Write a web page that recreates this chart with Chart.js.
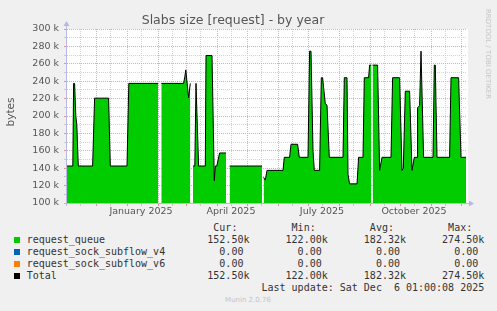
<!DOCTYPE html>
<html>
<head>
<meta charset="utf-8">
<script src="https://cdn.jsdelivr.net/npm/chart.js@4.4.1/dist/chart.umd.min.js"></script>
<style>
  body { margin: 0; background: #f0f0f0; width: 497px; height: 311px; overflow: hidden; position: relative; font-family: "DejaVu Sans", sans-serif; }
  #c { position: absolute; left: 0; top: 0; }
  #legend { position: absolute; left: 26.7px; top: 221.7px; margin: 0; font: 10px/12px "DejaVu Sans Mono", monospace; color: #333; white-space: pre; }
  .sq { position: absolute; left: 14px; width: 6px; height: 6px; }
  .rot { position: absolute; white-space: nowrap; }
  #ylab { left: 10px; top: 112px; font-size: 10.5px; color: #555; transform: translate(-50%, -50%) rotate(-90deg); }
  #rrd { left: 487.5px; top: 53.5px; font-size: 7px; color: #c4c4c4; transform: translate(-50%, -50%) rotate(90deg); }
  #munin { position: absolute; left: 248px; top: 300.3px; font-size: 7px; color: #c4c4c4; transform: translate(-50%, -50%); white-space: nowrap; }
</style>
</head>
<body>
<canvas id="c" width="497" height="220"></canvas>
<div id="ylab" class="rot">bytes</div>
<div id="rrd" class="rot">RRDTOOL / TOBI OETIKER</div>
<pre id="legend"></pre>
<div id="munin">Munin 2.0.76</div>
<script>
// days since 2024-11-01, and request_queue in k bytes (null = no data)
const days = [1, 6.8, 7.6, 8.6, 9.8, 10.8, 12.3, 26.6, 28.6, 42.6, 44.3, 61, 62.8, 92, 93.5,
  95.3, 117.6, 118.8, 119.8, 122.6, 124.3, 125.5, 127, 128.8, 130, 132.6, 139.3, 140, 146,
  148.3, 149.3, 150.8, 153.6, 160, 161.5, 163.6, 196, 197, 197.6, 199.3, 201, 217, 218.3,
  223.6, 225, 231.6, 233.3, 242, 243.6, 245, 247, 248.3, 253.6, 255.3, 256.6, 259.3, 261,
  263.3, 277, 278.3, 281, 282, 283.6, 291, 292.6, 297, 298.3, 302.6, 303.6, 305.3, 306,
  306.6, 311.6, 313.6, 316, 325, 326.6, 333.6, 336, 337.3, 339.3, 343.6, 346, 348.3, 351,
  351.6, 353.6, 355, 357.6, 367, 368.3, 369.3, 371, 383.6, 385, 392.6, 395, 400];
const queueK = [142.5, 142.5, 237.5, 237.5, 200, 190, 142.5, 142.5, 220.5, 220.5, 142.5, 142.5, 237.5, 237.5, null,
  237.5, 237.5, 245, 253, 221, 237.5, null, 142.5, 142.5, 237.5, 142.5, 142.5, 269.5, 269.5,
  125.5, 142.5, 142.5, 157.5, 157.5, null, 142.5, 142.5, null, 129.5, 126.3, 137.5, 137.5, 152.5,
  152.5, 167.5, 167.5, 152.5, 152.5, 274.5, 274.5, 160, 137.5, 137.5, 244, 244, 214, 212.5,
  152.5, 152.5, 244, 244, 133, 122, 122, 152.5, 152.5, 244, 244, 258.5, 258.5, null,
  258.5, 258.5, 137.5, 152.5, 152.5, 244, 244, 137.5, 140, 228.5, 228.5, 137.5, 152.5, 152.5,
  209.5, 212, 274.5, 152.5, 152.5, 258.5, 258.5, 152.5, 152.5, 244, 244, 152.5, 152.5];

const seriesNames = ['request_queue', 'request_sock_subflow_v4', 'request_sock_subflow_v6', 'Total'];
const seriesColors = ['#00cc00', '#0066b3', '#ff8000', '#000000'];
const curVals = [152500, 0, 0, 152500];
const minVals = [122000, 0, 0, 122000];
const avgVals = [182320, 0, 0, 182320];
const maxVals = [274500, 0, 0, 274500];

const xLabels = ['January 2025', 'April 2025', 'July 2025', 'October 2025'];
const xLabelDates = ['2025-01-15', '2025-04-15', '2025-07-15', '2025-10-15'];
const startDate = '2024-11-01';

function dayOf(s) {
  return (Date.parse(s) - Date.parse(startDate)) / 86400000;
}

// month starts (major) and mid months (minor)
let monthTicks = [], midTicks = [];
for (let m = 0; m < 14; m++) {
  let y = 2024 + Math.floor((10 + m) / 12), mo = (10 + m) % 12 + 1;
  let s = y + '-' + String(mo).padStart(2, '0');
  let d1 = dayOf(s + '-01'), d15 = dayOf(s + '-15');
  if (d1 > 1 && d1 < 400) monthTicks.push(d1);
  if (d15 > 1 && d15 < 400) midTicks.push(d15);
}
const labelAt = {};
xLabelDates.forEach((d, i) => labelAt[dayOf(d)] = xLabels[i]);

const pts = days.map((d, i) => ({ x: d, y: queueK[i] === null ? null : queueK[i] * 1000 }));
const zeros = days.map(d => ({ x: d, y: 0 }));

const MAJ = '#e8a8a8', MIN = '#d2d2d2';
const font = { family: 'DejaVu Sans', size: 9.5 };

const bgPlugin = {
  id: 'bg',
  beforeDraw(chart) {
    const a = chart.chartArea, ctx = chart.ctx;
    ctx.save();
    ctx.fillStyle = '#ffffff';
    ctx.fillRect(a.left, a.top, a.right - a.left + 2, a.bottom - a.top);
    ctx.restore();
  },
  afterDraw(chart) {
    const a = chart.chartArea, ctx = chart.ctx;
    ctx.save();
    ctx.strokeStyle = ctx.fillStyle = '#b8b8e6';
    ctx.lineWidth = 1;
    ctx.beginPath();
    ctx.moveTo(a.left - 0.5, a.bottom + 3);
    ctx.lineTo(a.left - 0.5, a.top - 3);
    ctx.moveTo(a.left - 3, a.bottom + 0.5);
    ctx.lineTo(a.right + 3, a.bottom + 0.5);
    ctx.stroke();
    ctx.beginPath();
    ctx.moveTo(a.left - 0.5, a.top - 8);
    ctx.lineTo(a.left - 3.5, a.top - 3);
    ctx.lineTo(a.left + 2.5, a.top - 3);
    ctx.fill();
    ctx.beginPath();
    ctx.moveTo(a.right + 8, a.bottom + 0.5);
    ctx.lineTo(a.right + 3, a.bottom - 2.5);
    ctx.lineTo(a.right + 3, a.bottom + 3.5);
    ctx.fill();
    ctx.restore();
  }
};

new Chart(document.getElementById('c').getContext('2d'), {
  type: 'line',
  data: {
    datasets: [
      { label: 'Total', data: pts, borderColor: '#000000', borderWidth: 1, pointRadius: 0, fill: false, order: 0 },
      { label: seriesNames[0], data: pts, borderWidth: 0, borderColor: 'rgba(0,0,0,0)', backgroundColor: seriesColors[0], pointRadius: 0, fill: 'start', order: 1 },
      { label: seriesNames[1], data: zeros, borderColor: seriesColors[1], borderWidth: 1, pointRadius: 0, fill: false, order: 2 },
      { label: seriesNames[2], data: zeros, borderColor: seriesColors[2], borderWidth: 1, pointRadius: 0, fill: false, order: 3 }
    ]
  },
  options: {
    responsive: false,
    animation: false,
    events: [],
    spanGaps: false,
    layout: { padding: { left: 0, right: 31, top: 0, bottom: 0 } },
    plugins: {
      legend: { display: false },
      tooltip: { enabled: false },
      title: {
        display: true,
        text: 'Slabs size [request] - by year',
        color: '#555',
        font: { family: 'DejaVu Sans', size: 12.5, weight: 'normal' },
        padding: { top: 13, bottom: 1 }
      }
    },
    scales: {
      x: {
        type: 'linear',
        min: 1,
        max: 400,
        afterFit(scale) { scale.height = 17; },
        afterBuildTicks(scale) {
          scale.ticks = monthTicks.concat(midTicks).sort((a, b) => a - b).map(v => ({ value: v }));
        },
        ticks: {
          autoSkip: false, maxRotation: 0, minRotation: 0, padding: 0,
          color: '#555', font: font,
          callback: v => labelAt[v] || ''
        },
        grid: {
          color: c => monthTicks.includes(c.tick.value) ? MAJ : MIN,
          tickColor: c => monthTicks.includes(c.tick.value) ? '#e89090' : '#c8c8c8',
          tickLength: 3, lineWidth: 1
        },
        border: { display: false, dash: [1, 1] }
      },
      y: {
        min: 100000,
        max: 300000,
        afterFit(scale) { scale.width = 67; },
        ticks: {
          stepSize: 10000, autoSkip: false, padding: 5,
          color: '#555', font: font,
          callback: v => v % 20000 === 0 ? (v / 1000) + ' k' : ''
        },
        grid: {
          color: c => c.tick.value % 20000 === 0 ? MAJ : MIN,
          tickColor: c => c.tick.value % 20000 === 0 ? '#e89090' : '#c8c8c8',
          tickLength: 3, lineWidth: 1
        },
        border: { display: false, dash: [1, 1] }
      }
    }
  },
  plugins: [bgPlugin]
});

// legend table, munin style
function fmt(v) {
  return v >= 1000 ? (v / 1000).toFixed(2).padStart(6) + 'k' : v.toFixed(2).padStart(6) + ' ';
}
const sp = n => ' '.repeat(n);
let lines = [sp(31) + 'Cur:' + sp(9) + 'Min:' + sp(9) + 'Avg:' + sp(9) + 'Max:'];
seriesNames.forEach((n, i) => {
  lines.push(n.padEnd(30) + fmt(curVals[i]) + sp(6) + fmt(minVals[i]) + sp(6) + fmt(avgVals[i]) + sp(6) + fmt(maxVals[i]));
  const sq = document.createElement('div');
  sq.className = 'sq';
  sq.style.top = (236.7 + i * 12) + 'px';
  sq.style.background = seriesColors[i];
  document.body.appendChild(sq);
});
lines.push(sp(39) + 'Last update: Sat Dec  6 01:00:08 2025');
document.getElementById('legend').textContent = lines.join('\n');
</script>
</body>
</html>
